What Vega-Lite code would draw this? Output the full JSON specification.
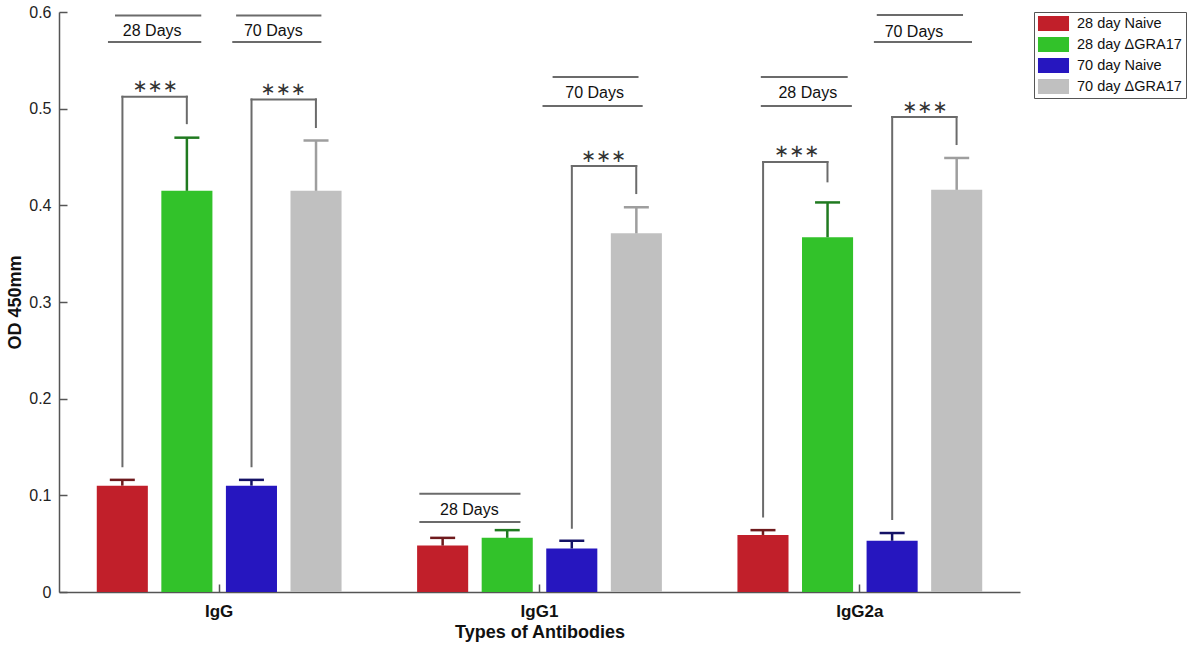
{
  "$schema": "https://vega.github.io/schema/vega-lite/v6.json",
  "width": 961,
  "height": 580,
  "autosize": {"type": "none"},
  "padding": {"left": 59, "top": 12, "right": 172, "bottom": 57},
  "config": {"view": {"stroke": null}, "font": "Liberation Sans"},
  "datasets": {
    "bars": [
      {"antibody": "IgG", "group": "28 day Naive", "od": 0.110, "upper": 0.116},
      {"antibody": "IgG", "group": "28 day ΔGRA17", "od": 0.415, "upper": 0.470},
      {"antibody": "IgG", "group": "70 day Naive", "od": 0.110, "upper": 0.116},
      {"antibody": "IgG", "group": "70 day ΔGRA17", "od": 0.415, "upper": 0.467},
      {"antibody": "IgG1", "group": "28 day Naive", "od": 0.048, "upper": 0.056},
      {"antibody": "IgG1", "group": "28 day ΔGRA17", "od": 0.056, "upper": 0.064},
      {"antibody": "IgG1", "group": "70 day Naive", "od": 0.045, "upper": 0.053},
      {"antibody": "IgG1", "group": "70 day ΔGRA17", "od": 0.371, "upper": 0.398},
      {"antibody": "IgG2a", "group": "28 day Naive", "od": 0.059, "upper": 0.064},
      {"antibody": "IgG2a", "group": "28 day ΔGRA17", "od": 0.367, "upper": 0.403},
      {"antibody": "IgG2a", "group": "70 day Naive", "od": 0.053, "upper": 0.061},
      {"antibody": "IgG2a", "group": "70 day ΔGRA17", "od": 0.416, "upper": 0.449}
    ],
    "segments": [
      {"x": 0.198, "x2": 0.198, "y": 0.130, "y2": 0.5124},
      {"x": 0.198, "x2": 0.399, "y": 0.5124, "y2": 0.5124},
      {"x": 0.399, "x2": 0.399, "y": 0.5124, "y2": 0.485},
      {"x": 0.601, "x2": 0.601, "y": 0.130, "y2": 0.5096},
      {"x": 0.601, "x2": 0.802, "y": 0.5096, "y2": 0.5096},
      {"x": 0.802, "x2": 0.802, "y": 0.5096, "y2": 0.481},
      {"x": 0.178, "x2": 0.441, "y": 0.5965, "y2": 0.5965},
      {"x": 0.156, "x2": 0.441, "y": 0.569, "y2": 0.569},
      {"x": 0.556, "x2": 0.816, "y": 0.5965, "y2": 0.5965},
      {"x": 0.544, "x2": 0.816, "y": 0.569, "y2": 0.569},
      {"x": 1.128, "x2": 1.4375, "y": 0.1017, "y2": 0.1017},
      {"x": 1.128, "x2": 1.4375, "y": 0.0724, "y2": 0.0724},
      {"x": 1.544, "x2": 1.806, "y": 0.5327, "y2": 0.5327},
      {"x": 1.5125, "x2": 1.819, "y": 0.5027, "y2": 0.5027},
      {"x": 1.601, "x2": 1.601, "y": 0.0665, "y2": 0.4407},
      {"x": 1.601, "x2": 1.802, "y": 0.4407, "y2": 0.4407},
      {"x": 1.802, "x2": 1.802, "y": 0.4407, "y2": 0.4127},
      {"x": 2.194, "x2": 2.459, "y": 0.5327, "y2": 0.5327},
      {"x": 2.194, "x2": 2.472, "y": 0.5027, "y2": 0.5027},
      {"x": 2.198, "x2": 2.198, "y": 0.078, "y2": 0.4448},
      {"x": 2.198, "x2": 2.399, "y": 0.4448, "y2": 0.4448},
      {"x": 2.399, "x2": 2.399, "y": 0.4448, "y2": 0.4248},
      {"x": 2.556, "x2": 2.819, "y": 0.5969, "y2": 0.5969},
      {"x": 2.547, "x2": 2.847, "y": 0.569, "y2": 0.569},
      {"x": 2.601, "x2": 2.601, "y": 0.0755, "y2": 0.4914},
      {"x": 2.601, "x2": 2.802, "y": 0.4914, "y2": 0.4914},
      {"x": 2.802, "x2": 2.802, "y": 0.4914, "y2": 0.4634}
    ],
    "stars": [
      {"x": 0.300, "y": 0.522, "label": "∗∗∗"},
      {"x": 0.700, "y": 0.519, "label": "∗∗∗"},
      {"x": 1.700, "y": 0.450, "label": "∗∗∗"},
      {"x": 2.303, "y": 0.455, "label": "∗∗∗"},
      {"x": 2.703, "y": 0.5007, "label": "∗∗∗"}
    ],
    "days": [
      {"x": 0.291, "y": 0.580, "label": "28 Days"},
      {"x": 0.669, "y": 0.580, "label": "70 Days"},
      {"x": 1.281, "y": 0.085, "label": "28 Days"},
      {"x": 1.672, "y": 0.516, "label": "70 Days"},
      {"x": 2.3375, "y": 0.516, "label": "28 Days"},
      {"x": 2.669, "y": 0.579, "label": "70 Days"}
    ]
  },
  "layer": [
    {
      "data": {"name": "bars"},
      "encoding": {
        "x": {
          "field": "antibody",
          "type": "nominal",
          "sort": ["IgG", "IgG1", "IgG2a"],
          "scale": {"paddingInner": 0, "paddingOuter": 0},
          "axis": {
            "title": "Types of Antibodies",
            "labelAngle": 0,
            "labelFontSize": 17,
            "labelFontWeight": "bold",
            "labelColor": "#111",
            "labelPadding": 19,
            "tickSize": -8,
            "tickWidth": 1.5,
            "tickColor": "#555",
            "domainColor": "#555",
            "domainWidth": 1.5,
            "titleFontSize": 18,
            "titleFontWeight": "bold",
            "titleColor": "#111",
            "titlePadding": 4
          }
        },
        "xOffset": {
          "field": "group",
          "type": "nominal",
          "sort": ["28 day Naive", "28 day ΔGRA17", "70 day Naive", "70 day ΔGRA17"],
          "scale": {"paddingInner": 0.209, "paddingOuter": 0.585}
        }
      },
      "layer": [
        {
          "mark": {"type": "bar"},
          "encoding": {
            "y": {
              "field": "od",
              "type": "quantitative",
              "title": "OD 450mm",
              "scale": {"domain": [0, 0.6], "nice": false},
              "axis": {
                "title": "OD 450mm",
                "values": [0, 0.1, 0.2, 0.3, 0.4, 0.5, 0.6],
                "format": ".1~f",
                "grid": false,
                "labelFontSize": 16,
                "labelColor": "#222",
                "labelPadding": 16,
                "tickSize": -8,
                "tickWidth": 1.5,
                "tickColor": "#555",
                "domainColor": "#555",
                "domainWidth": 1.5,
                "titleFontSize": 18,
                "titleFontWeight": "bold",
                "titleColor": "#111",
                "titlePadding": 4
              }
            },
            "color": {
              "field": "group",
              "type": "nominal",
              "scale": {
                "domain": ["28 day Naive", "28 day ΔGRA17", "70 day Naive", "70 day ΔGRA17"],
                "range": ["#c11f2a", "#32c22a", "#2616bf", "#c0c0c0"]
              },
              "legend": {
                "title": null,
                "orient": "none",
                "legendX": 975,
                "legendY": 0,
                "symbolType": "M-2.07,-1H2.07V1H-2.07Z",
                "symbolSize": 225,
                "symbolStrokeWidth": 0,
                "symbolOpacity": 1,
                "labelFontSize": 14.5,
                "labelColor": "#111",
                "strokeColor": "#555",
                "fillColor": "white",
                "padding": 4,
                "rowPadding": 5,
                "labelOffset": 16,
                "symbolOffset": 8
              }
            }
          }
        },
        {
          "mark": {"type": "rule", "strokeWidth": 2.5, "opacity": 1},
          "encoding": {
            "y": {"field": "od", "type": "quantitative", "title": "OD 450mm"},
            "y2": {"field": "upper"},
            "stroke": {
              "field": "group",
              "type": "nominal",
              "scale": {
                "domain": ["28 day Naive", "28 day ΔGRA17", "70 day Naive", "70 day ΔGRA17"],
                "range": ["#6f1a1d", "#207a20", "#141266", "#9e9e9e"]
              },
              "legend": null
            }
          }
        },
        {
          "mark": {"type": "tick", "thickness": 2.5, "size": 25, "opacity": 1},
          "encoding": {
            "y": {"field": "upper", "type": "quantitative", "title": "OD 450mm"},
            "fill": {
              "field": "group",
              "type": "nominal",
              "scale": {
                "domain": ["28 day Naive", "28 day ΔGRA17", "70 day Naive", "70 day ΔGRA17"],
                "range": ["#6f1a1d", "#207a20", "#141266", "#9e9e9e"]
              },
              "legend": null
            }
          }
        }
      ]
    },
    {
      "layer": [
        {
          "data": {"name": "segments"},
          "mark": {"type": "rule", "color": "#6b6b6b", "strokeWidth": 2, "strokeCap": "square"},
          "encoding": {
            "x": {"field": "x", "type": "quantitative", "scale": {"domain": [0, 3], "nice": false, "zero": false}, "axis": null},
            "x2": {"field": "x2"},
            "y": {"field": "y", "type": "quantitative", "title": "OD 450mm"},
            "y2": {"field": "y2"}
          }
        },
        {
          "data": {"name": "stars"},
          "mark": {"type": "text", "font": "DejaVu Sans", "fontSize": 18, "color": "#333", "baseline": "middle", "align": "center"},
          "encoding": {
            "x": {"field": "x", "type": "quantitative", "axis": null},
            "y": {"field": "y", "type": "quantitative", "title": "OD 450mm"},
            "text": {"field": "label"}
          }
        },
        {
          "data": {"name": "days"},
          "mark": {"type": "text", "fontSize": 16, "color": "#111", "baseline": "middle", "align": "center"},
          "encoding": {
            "x": {"field": "x", "type": "quantitative", "axis": null},
            "y": {"field": "y", "type": "quantitative", "title": "OD 450mm"},
            "text": {"field": "label"}
          }
        }
      ]
    }
  ],
  "resolve": {"scale": {"x": "independent"}}
}
